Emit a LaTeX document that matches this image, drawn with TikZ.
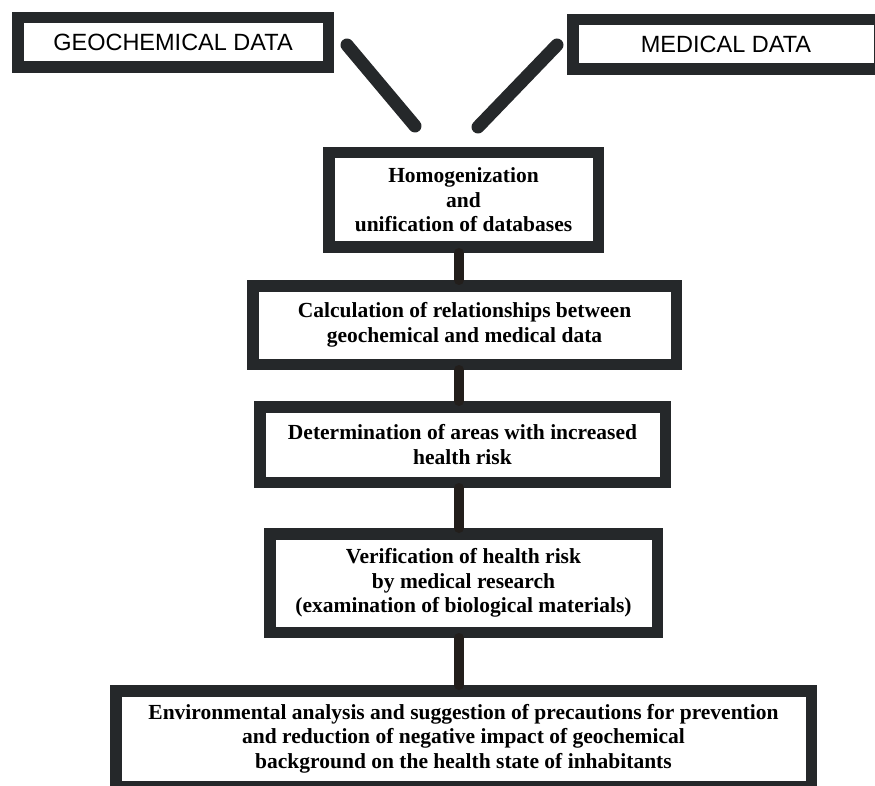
\documentclass[tikz,border=0pt]{standalone}
\usepackage{fontspec}
\newfontfamily\labelsans{Liberation Sans}
\newfontfamily\bodyserif{Liberation Serif}
\definecolor{framegray}{HTML}{25282A}
\definecolor{wiredark}{HTML}{221E1B}

\tikzset{
    flowbox/.style={draw=framegray, line width=11.5pt, fill=white, inner sep=0pt, align=center},
    datalabel/.style={font=\labelsans\fontsize{23.5}{26}\selectfont},
    steptext/.style={font=\bodyserif\bfseries\fontsize{21.5}{24.5}\selectfont},
    wire/.style={draw=wiredark, line width=10pt, line cap=round},
    feed/.style={draw=framegray, line width=13pt, line cap=round}
}

\begin{document}
\begin{tikzpicture}[x=1pt, y=-1pt]
    \useasboundingbox (0,0) rectangle (875,786);
    \clip (0,0) rectangle (875,786);

        \begin{scope}[every node/.style={flowbox}]
            \node[datalabel, minimum width=310.5pt, minimum height=49.5pt] (geo) at (173,42.5) {GEOCHEMICAL DATA};
            \node[datalabel, minimum width=306.5pt, minimum height=49.5pt] (med) at (726,44.5) {MEDICAL DATA};
            \node[steptext, minimum width=269.5pt, minimum height=94.5pt] (hom) at (463.5,200) {Homogenization\\and\\unification of databases};
            \node[steptext, minimum width=423.5pt, minimum height=78.5pt] (calc) at (464.5,325) {Calculation of relationships between\\geochemical and medical data};
            \node[steptext, minimum width=405.5pt, minimum height=75.5pt] (det) at (462.5,444.5) {Determination of areas with increased\\health risk};
            \node[steptext, minimum width=387.5pt, minimum height=98.5pt] (ver) at (463.5,583) {Verification of health risk\\by medical research\\(examination of biological materials)};
            \node[steptext, minimum width=695.5pt, minimum height=96pt] (env) at (463.5,738.75) {Environmental analysis and suggestion of precautions for prevention\\and reduction of negative impact of geochemical\\background on the health state of inhabitants};
        \end{scope}

        \coordinate (spine) at (459,0);
        \coordinate (geo-feed) at (347,45);
        \coordinate (hom-feed-l) at (415,126);
        \coordinate (med-feed) at (557,45);
        \coordinate (hom-feed-r) at (478,127);

        \begin{scope}[every edge/.style={wire}]
            \path (geo-feed) edge[feed] (hom-feed-l);
            \path (med-feed) edge[feed] (hom-feed-r);
            \path (hom.south -| spine) edge (calc.north -| spine);
            \path (calc.south -| spine) edge (det.north -| spine);
            \path (det.south -| spine) edge (ver.north -| spine);
            \path (ver.south -| spine) edge (env.north -| spine);
        \end{scope}

\end{tikzpicture}
\end{document}
